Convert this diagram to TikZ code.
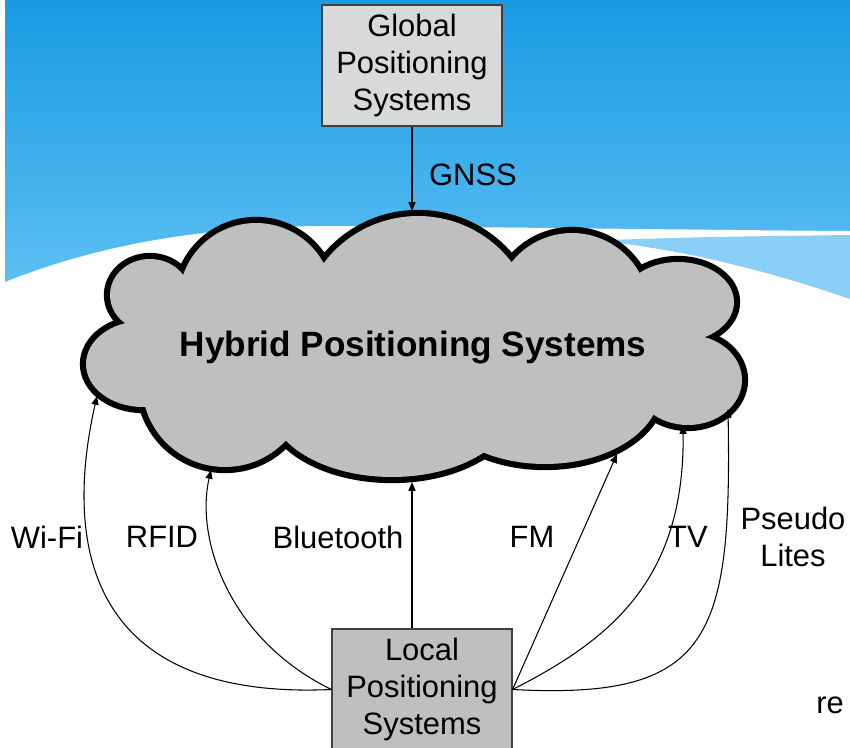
\documentclass[tikz,border=0pt]{standalone}
\usepackage{fontspec}
\setmainfont{Liberation Sans}
\usetikzlibrary{arrows.meta}

\definecolor{skytop}{RGB}{24,155,227}
\definecolor{skylow}{RGB}{96,193,243}
\definecolor{skypale}{RGB}{137,207,247}
\definecolor{cloudgray}{RGB}{191,191,191}
\definecolor{boxlight}{RGB}{217,217,217}
\definecolor{boxedge}{RGB}{64,64,64}

\tikzset{
  sysbox/.style={draw=boxedge, line width=0.7pt, minimum width=3.6cm,
    minimum height=2.42cm, align=center, font=\fontsize{17.6}{21}\selectfont},
  lbl/.style={font=\fontsize{17.6}{21}\selectfont, align=center},
  link/.style={line width=0.6pt, -{Triangle[length=5pt,width=4pt]}}
}

% lobes of the cloud: x/y/x radius/y radius
\def\lobes{150/295/40/36, 256/300/77/77, 418/334/118/118, 572/310/77/77,
  678/302/56/40, 688/380/54/45, 392/405/122/72, 545/390/115/74,
  225/384/83/83, 143/364/57/43, 415/370/230/70, 665/345/30/18}

\begin{document}
\begin{tikzpicture}[x=0.02cm, y=-0.02cm]
    \useasboundingbox (0,0) rectangle (850,748);
    % background
    \fill[white] (0,0) rectangle (850,748);
    \fill[top color=skytop, bottom color=skylow] (5,0) rectangle (850,300);
    \fill[white] (5,282) .. controls (110,240) and (220,226) .. (330,226)
        .. controls (500,227) and (700,230) .. (850,231) -- (850,310) -- (5,310) -- cycle;
    \fill[skypale] (610,240) .. controls (700,237) .. (850,235) -- (850,299)
        .. controls (760,268) and (680,250) .. (610,242) -- cycle;

    % cloud
    \foreach \cx/\cy/\rx/\ry in \lobes
        \draw[line width=7pt] (\cx,\cy) ellipse [x radius=\rx, y radius=\ry];
    \foreach \cx/\cy/\rx/\ry in \lobes
        \fill[cloudgray] (\cx,\cy) ellipse [x radius=\rx, y radius=\ry];
    \node[font=\bfseries\fontsize{20}{24}\selectfont] (hps) at (413,347) {Hybrid Positioning Systems};

    \coordinate (p-gnss) at (412,211);
    \coordinate (p-wifi) at (97,396);
    \coordinate (p-rfid) at (211,470);
    \coordinate (p-bt) at (412,482);
    \coordinate (p-fm) at (617,454);
    \coordinate (p-tv) at (683,425);
    \coordinate (p-pl) at (728,409);

    \node[sysbox, fill=boxlight] (gps) at (412,65.5) {Global\\Positioning\\Systems};
    \node[sysbox, fill=cloudgray] (lps) at (422,689.5) {Local\\Positioning\\Systems};

    \draw[link] (gps) -- (p-gnss);
    \draw[link] (lps.west) .. controls (100,700) and (60,560) .. (p-wifi);
    \draw[link] (lps.west) .. controls (230,640) and (195,540) .. (p-rfid);
    \draw[link] (p-bt |- lps.north) -- (p-bt);
    \draw[link] (lps.east) -- (p-fm);
    \draw[link] (lps.east) .. controls (610,640) and (685,580) .. (p-tv);
    \draw[link] (lps.east) .. controls (710,700) and (732,640) .. (p-pl);

    \node[lbl] (l-gnss) at (473,175) {GNSS};
    \node[lbl] (l-wifi) at (47,537) {Wi-Fi};
    \node[lbl] (l-rfid) at (162,537) {RFID};
    \node[lbl] (l-bt) at (338,537) {Bluetooth};
    \node[lbl] (l-fm) at (532,537) {FM};
    \node[lbl] (l-tv) at (688,537) {TV};
    \node[lbl] (l-pl) at (793,537) {Pseudo\\Lites};
    \node[lbl, anchor=west, inner sep=0pt] (l-cut) at (816,705) {re};
\end{tikzpicture}
\end{document}
